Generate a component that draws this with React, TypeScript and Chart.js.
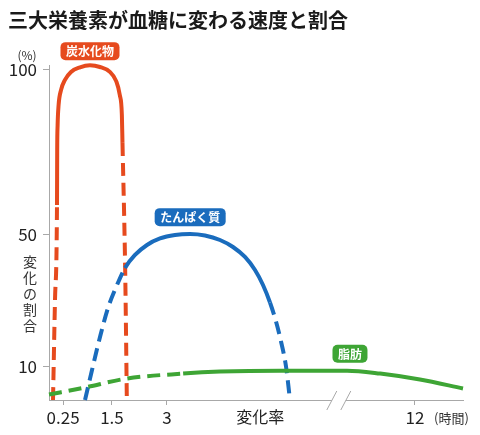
import { useEffect, useRef } from 'react';
import { Chart, registerables } from 'chart.js';

Chart.register(...registerables);

const TITLE = '三大栄養素が血糖に変わる速度と割合';
const Y_UNIT = '(%)';
const Y_TITLE = ['変', '化', 'の', '割', '合'];
const X_UNIT = '(時間)';

// x は横軸上の位置（0〜100、途中で // 省略あり）
const X_TICK_POS = [3.4, 15.2, 28.5, 51, 88.4];
const X_TICK_LABELS = ['0.25', '1.5', '3', '変化率', '12'];
const Y_TICKS = [10, 50, 100];
const BREAK_AT = 70;

// 炭水化物
const CARB_X = [0.97, 1.45, 1.93, 1.98, 2.08, 2.32, 2.9, 3.86, 5.31, 7.49, 9.9, 12.3, 14.7, 16.2, 17.1, 17.6, 17.75, 18.4, 18.8];
const CARB_Y = [0, 30.3, 59.1, 75.8, 83.3, 89.4, 93.9, 97.0, 99.4, 100.8, 101.4, 100.9, 99.4, 96.7, 92.4, 86.4, 77.9, 39.4, 0];
const CARB_SOLID = [2, 16];

// たんぱく質
const PROT_X = [8.7, 10.39, 12.32, 14.25, 16.43, 18.36, 20.77, 23.67, 26.81, 30.43, 34.06, 37.68, 41.3, 44.44, 47.34, 49.76, 51.69, 53.38, 54.83, 56.04, 57.25, 58.21];
const PROT_Y = [0, 9.09, 19.09, 27.88, 34.85, 40.0, 43.94, 46.97, 48.94, 50.0, 50.3, 49.85, 48.48, 46.36, 43.33, 39.39, 34.85, 29.55, 23.79, 17.73, 10.15, 0];
const PROT_SOLID = [5, 17];

// 脂肪
const FAT_X = [0, 8.7, 18.8, 32.4, 41.3, 55.8, 72.0, 80.0, 89.6, 100];
const FAT_Y = [1.65, 3.8, 6.5, 8.0, 8.6, 8.9, 8.9, 8.0, 6.2, 3.5];
const FAT_SOLID = [3, 99];

const LABELS = [
  { text: '炭水化物', x: 9.9, y: 105.7, color: '#e64a1e' },
  { text: 'たんぱく質', x: 34.1, y: 55.4, color: '#1a6cbd' },
  { text: '脂肪', x: 72.7, y: 14.0, color: '#3ea535' },
];

const DASH = [13, 7];
const AXIS = '#a8a8a8';
const FONT = '"Noto Sans CJK JP", "Noto Sans", sans-serif';

const toPoints = (xs: number[], ys: number[]) => xs.map((x, i) => ({ x, y: ys[i] }));
const dashOutside = (range: number[]) => (ctx: any) =>
  ctx.p0DataIndex >= range[0] && ctx.p0DataIndex < range[1] ? undefined : DASH;

const overlay = {
  id: 'overlay',
  afterDraw(chart: any) {
    const { ctx, scales } = chart;
    const { x, y } = scales;
    ctx.save();

    ctx.fillStyle = '#1a1a1a';
    ctx.textAlign = 'left';
    ctx.textBaseline = 'middle';
    ctx.font = `bold 20px ${FONT}`;
    ctx.fillText(TITLE, 8, 20);

    ctx.fillStyle = '#333';
    ctx.font = `12px ${FONT}`;
    ctx.textAlign = 'center';
    ctx.fillText(Y_UNIT, 27, 55);

    ctx.font = `14px ${FONT}`;
    Y_TITLE.forEach((ch, i) => ctx.fillText(ch, 30, 262 + i * 16));

    ctx.font = `13px ${FONT}`;
    ctx.textAlign = 'left';
    ctx.fillText(X_UNIT, 434, 418);

    // 軸の省略記号 //
    const bx = x.getPixelForValue(BREAK_AT);
    const by = y.bottom;
    ctx.fillStyle = '#fff';
    ctx.fillRect(bx - 7, by - 2, 14, 4);
    ctx.strokeStyle = AXIS;
    ctx.lineWidth = 1;
    [-7, 7].forEach((o) => {
      ctx.beginPath();
      ctx.moveTo(bx + o - 5, by + 10);
      ctx.lineTo(bx + o + 5, by - 9);
      ctx.stroke();
    });

    ctx.font = `bold 12px ${FONT}`;
    ctx.textAlign = 'center';
    LABELS.forEach((l) => {
      const cx = x.getPixelForValue(l.x);
      const cy = y.getPixelForValue(l.y);
      const w = ctx.measureText(l.text).width + 11;
      const h = 18;
      ctx.fillStyle = l.color;
      ctx.beginPath();
      ctx.roundRect(cx - w / 2, cy - h / 2, w, h, 5);
      ctx.fill();
      ctx.fillStyle = '#fff';
      ctx.fillText(l.text, cx, cy + 0.5);
    });

    ctx.restore();
  },
};

export default function App() {
  const canvasRef = useRef<HTMLCanvasElement>(null);

  useEffect(() => {
    document.body.style.margin = '0';
    if (!canvasRef.current) return;

    const line = (xs: number[], ys: number[], color: string, solid: number[], order: number) => ({
      data: toPoints(xs, ys),
      borderColor: color,
      borderWidth: 4,
      pointRadius: 0,
      fill: false,
      clip: false as const,
      cubicInterpolationMode: 'monotone' as const,
      borderCapStyle: 'butt' as const,
      borderJoinStyle: 'round' as const,
      order,
      segment: { borderDash: dashOutside(solid) },
    });

    const chart = new Chart(canvasRef.current, {
      type: 'line',
      data: {
        datasets: [
          line(FAT_X, FAT_Y, '#3ea535', FAT_SOLID, 0),
          line(PROT_X, PROT_Y, '#1a6cbd', PROT_SOLID, 1),
          line(CARB_X, CARB_Y, '#e64a1e', CARB_SOLID, 2),
        ],
      },
      plugins: [overlay],
      options: {
        responsive: false,
        animation: false,
        layout: { padding: { top: 65, right: 17, left: 0, bottom: 0 } },
        plugins: { legend: { display: false }, tooltip: { enabled: false } },
        scales: {
          x: {
            type: 'linear',
            min: 0,
            max: 100,
            afterFit: (s: any) => {
              s.height = 35;
            },
            afterBuildTicks: (s: any) => {
              s.ticks = X_TICK_POS.map((value) => ({ value }));
            },
            border: { color: AXIS, width: 1 },
            grid: {
              drawOnChartArea: false,
              tickLength: 5,
              tickColor: (c: any) => (c.index === 3 ? 'rgba(0,0,0,0)' : AXIS),
            },
            ticks: {
              autoSkip: false,
              maxRotation: 0,
              padding: 2,
              color: '#222',
              font: (c: any) => ({ family: FONT, size: c.index === 3 ? 16 : 17 }),
              callback: (_v: any, i: number) => X_TICK_LABELS[i],
            },
          },
          y: {
            type: 'linear',
            min: 0,
            max: 101.5,
            afterFit: (s: any) => {
              s.width = 49;
            },
            afterBuildTicks: (s: any) => {
              s.ticks = Y_TICKS.map((value) => ({ value }));
            },
            border: { color: AXIS, width: 1 },
            grid: { drawOnChartArea: false, tickLength: 6, tickColor: AXIS },
            ticks: {
              padding: 6,
              color: '#222',
              font: { family: FONT, size: 17 },
            },
          },
        },
      },
    });

    return () => chart.destroy();
  }, []);

  return (
    <div style={{ width: 480, height: 435, background: '#fff' }}>
      <canvas ref={canvasRef} width={480} height={435} />
    </div>
  );
}
